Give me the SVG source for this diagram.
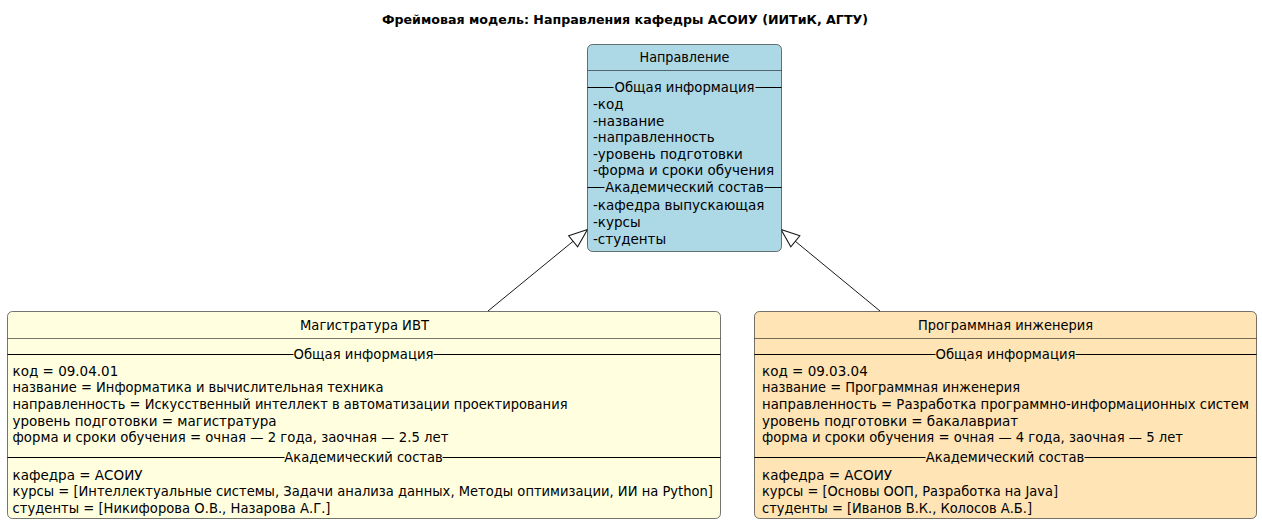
<svg xmlns="http://www.w3.org/2000/svg" width="1262" height="525" viewBox="0 0 1262 525">
<style>
text{font-family:"DejaVu Sans","Liberation Sans",sans-serif;font-size:13.5px;fill:#000}
.title{font-weight:bold;font-size:13px}
.c{text-anchor:middle}
.box{stroke:#181818;stroke-width:0.6}
.hsep{stroke:#181818;stroke-width:0.6}
.sec{stroke:#000;stroke-width:1}
.edge{stroke:#181818;stroke-width:1;fill:none}
</style>
<defs>
<marker id="ext" markerUnits="userSpaceOnUse" markerWidth="24" markerHeight="24" viewBox="-20 -10 22 20" refX="0" refY="0" orient="auto">
<path d="M0,0 L-17,-6.5 L-17,6.5 Z" fill="#fff" stroke="#181818" stroke-width="1"/>
</marker>
</defs>
<rect width="1262" height="525" fill="#fff"/>
<text class="title c" x="625" y="24" textLength="486" lengthAdjust="spacingAndGlyphs">Фреймовая модель: Направления кафедры АСОИУ (ИИТиК, АГТУ)</text>

<g id="connectors">
<path class="edge" d="M488,311 L587.5,229.5" marker-end="url(#ext)"/>
<path class="edge" d="M880,311 L781,229.5" marker-end="url(#ext)"/>
</g>

<g id="napravlenie">
<rect class="box" x="587.5" y="44.5" width="194" height="207" rx="5" fill="#ADD8E6"/>
<line class="hsep" x1="587.5" y1="70.5" x2="781.5" y2="70.5"/>
<text class="c" x="684.5" y="62" textLength="90" lengthAdjust="spacingAndGlyphs">Направление</text>
<line class="sec" x1="587.5" y1="87.5" x2="613.5" y2="87.5"/>
<line class="sec" x1="755.5" y1="87.5" x2="781.5" y2="87.5"/>
<text class="c" x="684.5" y="92" textLength="140" lengthAdjust="spacingAndGlyphs">Общая информация</text>
<text x="593" y="109">-код</text>
<text x="593" y="125.6">-название</text>
<text x="593" y="142.2">-направленность</text>
<text x="593" y="158.8">-уровень подготовки</text>
<text x="593" y="175.4">-форма и сроки обучения</text>
<line class="sec" x1="587.5" y1="187.5" x2="604.5" y2="187.5"/>
<line class="sec" x1="764.5" y1="187.5" x2="781.5" y2="187.5"/>
<text class="c" x="684.5" y="192" textLength="158.5" lengthAdjust="spacingAndGlyphs">Академический состав</text>
<text x="593" y="210.3">-кафедра выпускающая</text>
<text x="593" y="226.9">-курсы</text>
<text x="593" y="243.5">-студенты</text>
</g>

<g id="magistratura">
<rect class="box" x="7.5" y="311.5" width="713" height="207" rx="5" fill="#FFFFE0"/>
<line class="hsep" x1="7.5" y1="338.5" x2="720.5" y2="338.5"/>
<text class="c" x="364.5" y="329.5" textLength="129" lengthAdjust="spacingAndGlyphs">Магистратура ИВТ</text>
<line class="sec" x1="7.5" y1="354.5" x2="293.5" y2="354.5"/>
<line class="sec" x1="433.5" y1="354.5" x2="720.5" y2="354.5"/>
<text class="c" x="363.5" y="359" textLength="140" lengthAdjust="spacingAndGlyphs">Общая информация</text>
<text x="12.5" y="375.8">код = 09.04.01</text>
<text x="12.5" y="392.4" textLength="371" lengthAdjust="spacingAndGlyphs">название = Информатика и вычислительная техника</text>
<text x="12.5" y="409" textLength="555" lengthAdjust="spacingAndGlyphs">направленность = Искусственный интеллект в автоматизации проектирования</text>
<text x="12.5" y="425.6">уровень подготовки = магистратура</text>
<text x="12.5" y="442.2" textLength="436" lengthAdjust="spacingAndGlyphs">форма и сроки обучения = очная — 2 года, заочная — 2.5 лет</text>
<line class="sec" x1="7.5" y1="457.5" x2="284.5" y2="457.5"/>
<line class="sec" x1="442.5" y1="457.5" x2="720.5" y2="457.5"/>
<text class="c" x="363.5" y="462" textLength="158.5" lengthAdjust="spacingAndGlyphs">Академический состав</text>
<text x="12.5" y="479.5">кафедра = АСОИУ</text>
<text x="12.5" y="496.1" textLength="700.5" lengthAdjust="spacingAndGlyphs">курсы = [Интеллектуальные системы, Задачи анализа данных, Методы оптимизации, ИИ на Python]</text>
<text x="12.5" y="512.7" textLength="318" lengthAdjust="spacingAndGlyphs">студенты = [Никифорова О.В., Назарова А.Г.]</text>
</g>

<g id="programmnaya">
<rect class="box" x="754.5" y="311.5" width="502" height="207" rx="5" fill="#FFE4B5"/>
<line class="hsep" x1="754.5" y1="338.5" x2="1256.5" y2="338.5"/>
<text class="c" x="1005.5" y="329.5" textLength="175" lengthAdjust="spacingAndGlyphs">Программная инженерия</text>
<line class="sec" x1="754.5" y1="354.5" x2="935.5" y2="354.5"/>
<line class="sec" x1="1075.5" y1="354.5" x2="1256.5" y2="354.5"/>
<text class="c" x="1005.5" y="359" textLength="140" lengthAdjust="spacingAndGlyphs">Общая информация</text>
<text x="762" y="375.8">код = 09.03.04</text>
<text x="762" y="392.4" textLength="258" lengthAdjust="spacingAndGlyphs">название = Программная инженерия</text>
<text x="762" y="409" textLength="487" lengthAdjust="spacingAndGlyphs">направленность = Разработка программно-информационных систем</text>
<text x="762" y="425.6">уровень подготовки = бакалавриат</text>
<text x="762" y="442.2" textLength="421" lengthAdjust="spacingAndGlyphs">форма и сроки обучения = очная — 4 года, заочная — 5 лет</text>
<line class="sec" x1="754.5" y1="457.5" x2="925.5" y2="457.5"/>
<line class="sec" x1="1084.5" y1="457.5" x2="1256.5" y2="457.5"/>
<text class="c" x="1005" y="462" textLength="158.5" lengthAdjust="spacingAndGlyphs">Академический состав</text>
<text x="762" y="479.5">кафедра = АСОИУ</text>
<text x="762" y="496.1" textLength="296" lengthAdjust="spacingAndGlyphs">курсы = [Основы ООП, Разработка на Java]</text>
<text x="762" y="512.7" textLength="270" lengthAdjust="spacingAndGlyphs">студенты = [Иванов В.К., Колосов А.Б.]</text>
</g>
</svg>
